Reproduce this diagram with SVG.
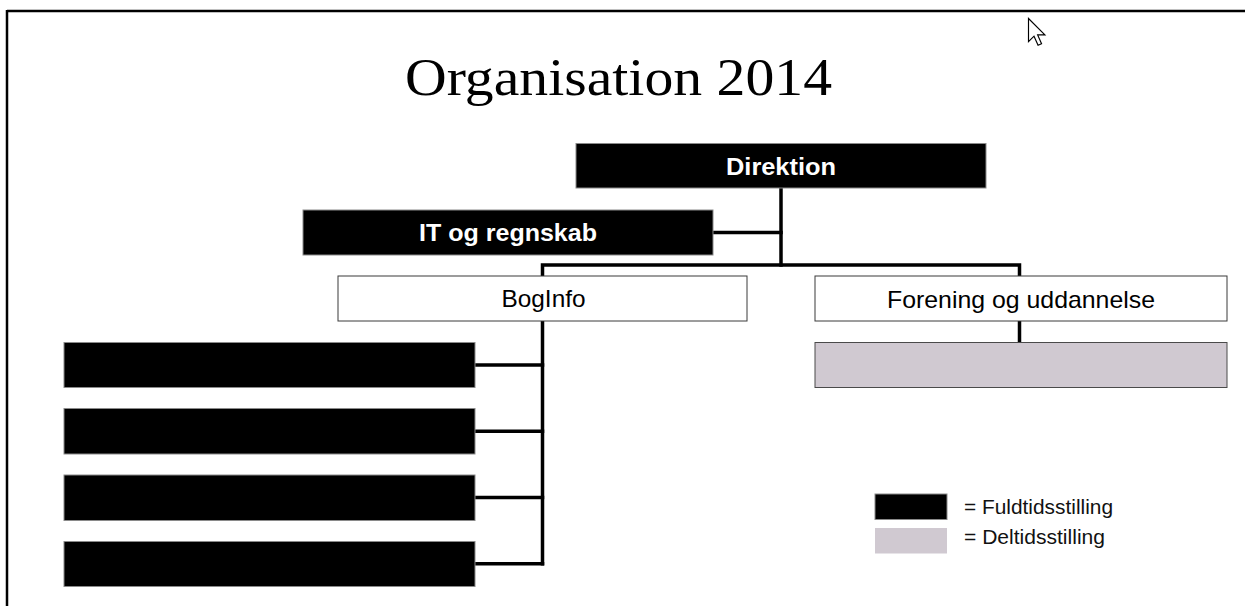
<svg xmlns="http://www.w3.org/2000/svg" width="1245" height="606" viewBox="0 0 1245 606">
<style>
.full{fill:#000;stroke:#8a8a8a;stroke-width:1}
.white{fill:#fff;stroke:#3a3a3a;stroke-width:1}
.part{fill:#d0c9d1;stroke:#4a4a4a;stroke-width:1}
.conn{stroke:#000;stroke-width:3.5;fill:none;stroke-linecap:square}
.lbw{font-family:"Liberation Sans",Arial,sans-serif;font-weight:bold;font-size:24px;fill:#fff;text-anchor:middle}
.lbb{font-family:"Liberation Sans",Arial,sans-serif;font-size:24px;fill:#000;text-anchor:middle}
.leg{font-family:"Liberation Sans",Arial,sans-serif;font-size:20px;fill:#111}
</style>
<rect x="0" y="0" width="1245" height="606" fill="#fff"/>
<g id="frame">
<line x1="7" y1="11" x2="1245" y2="11" stroke="#000" stroke-width="2.5"/>
<line x1="7" y1="10" x2="7" y2="606" stroke="#000" stroke-width="2.5"/>
</g>
<text id="title" x="405" y="95" font-family="'Liberation Serif','Times New Roman',serif" font-size="53" fill="#000" textLength="427" lengthAdjust="spacingAndGlyphs">Organisation 2014</text>
<g id="connectors">
<path class="conn" d="M781 188 V265"/>
<path class="conn" d="M713 232.5 H781"/>
<path class="conn" d="M542.5 276 V265 H1019.5 V276"/>
<path class="conn" d="M1019.5 321 V342.5"/>
<path class="conn" d="M542.5 321 V563.8"/>
<path class="conn" d="M475 365 H542.5"/>
<path class="conn" d="M475 431.3 H542.5"/>
<path class="conn" d="M475 497.5 H542.5"/>
<path class="conn" d="M475 563.8 H542.5"/>
</g>
<g id="direktion">
<rect class="full" x="576" y="143.5" width="410" height="44.5"/>
<text class="lbw" x="781" y="174.5" textLength="110" lengthAdjust="spacingAndGlyphs">Direktion</text>
</g>
<g id="it">
<rect class="full" x="303" y="210" width="410" height="45"/>
<text class="lbw" x="508" y="240.7" textLength="178" lengthAdjust="spacingAndGlyphs">IT og regnskab</text>
</g>
<g id="boginfo">
<rect class="white" x="338" y="276" width="409" height="45"/>
<text class="lbb" x="543.5" y="306.8" textLength="84" lengthAdjust="spacingAndGlyphs">BogInfo</text>
</g>
<g id="forening">
<rect class="white" x="815" y="276" width="412" height="45"/>
<text class="lbb" x="1021" y="307.5" textLength="268" lengthAdjust="spacingAndGlyphs">Forening og uddannelse</text>
</g>
<g id="forening-staff">
<rect class="part" x="815" y="342.5" width="412" height="45"/>
</g>
<g id="boginfo-staff-1"><rect class="full" x="64" y="342.5" width="411" height="45"/></g>
<g id="boginfo-staff-2"><rect class="full" x="64" y="408.5" width="411" height="45.5"/></g>
<g id="boginfo-staff-3"><rect class="full" x="64" y="475" width="411" height="45.5"/></g>
<g id="boginfo-staff-4"><rect class="full" x="64" y="541.5" width="411" height="45"/></g>
<g id="legend">
<rect class="full" x="875" y="494" width="72" height="25.5"/>
<rect x="875" y="528" width="72" height="25.5" fill="#d0c9d1"/>
<text class="leg" x="964" y="513.5" textLength="149" lengthAdjust="spacingAndGlyphs">= Fuldtidsstilling</text>
<text class="leg" x="964" y="543.5" textLength="141" lengthAdjust="spacingAndGlyphs">= Deltidsstilling</text>
</g>
<g id="cursor" transform="translate(1028.5,18.5) scale(1.45)">
<path d="M0 0 V16 L3.8 12.2 L6.6 18.4 L9 17.4 L6.3 11.3 L11.3 11.3 Z" fill="#fff" stroke="#000" stroke-width="0.8" stroke-linejoin="miter"/>
</g>
</svg>
